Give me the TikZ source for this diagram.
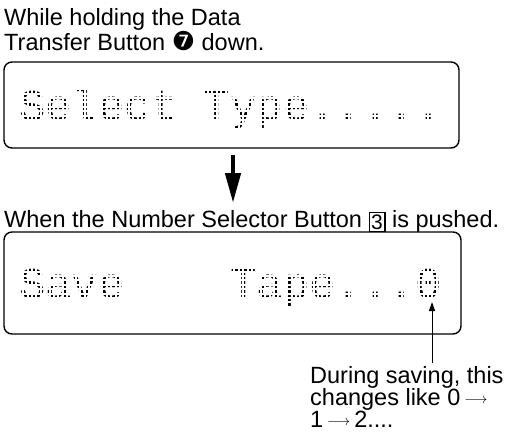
\documentclass[tikz,border=0pt]{standalone}
\usepackage{fontspec}
\setmainfont{Liberation Sans}
\newfontfamily\lcdfont{Liberation Mono}
\newfontfamily\dvfont{DejaVu Sans}
\usetikzlibrary{arrows.meta}
\tikzset{
  lbl/.style={anchor=base west, inner sep=0pt, font=\fontsize{23.5}{26}\selectfont},
  lcdbox/.style={draw, line width=1.4pt, rounded corners=8pt, inner sep=0pt},
  lcdtext/.style={anchor=base west, inner sep=0pt, text=black, font=\lcdfont\fontsize{44}{44}\selectfont},
  dotgrid/.style={white, line width=2pt},
  bigarrow/.style={line width=4.5pt, -{Triangle[length=30pt,width=15pt]}},
  thinarrow/.style={line width=1pt, -{Triangle[length=9pt,width=6pt]}}
}
\newcommand{\smarrow}{\raisebox{2pt}{\fontsize{15}{15}\selectfont$\longrightarrow$}}
\newcommand{\keybox}[1]{{\setlength\fboxsep{1.5pt}\setlength\fboxrule{1.1pt}\raisebox{-2.5pt}{\fbox{\fontsize{21}{21}\selectfont #1}}}}
\begin{document}
\begin{tikzpicture}[x=1pt,y=-1pt]
\useasboundingbox (0,0) rectangle (505,441);
% top caption
\node[lbl] (t1) at (4,26) {While holding the Data};
\node[lbl] (t2) at (4,51) {Transfer Button {\dvfont\fontsize{26}{26}\selectfont ❼} down.};
% first display
\node[lcdtext] (d1) at (18.8,120) {Select\phantom{x}Type.....};
\begin{scope}
  \clip (10,70) rectangle (455,140);
  \foreach \i in {0,...,100} \draw[dotgrid] ({18.8+4.4*\i},70) -- ++(0,70);
  \foreach \j in {-3,...,10} \draw[dotgrid] (10,{120-4.4*\j}) -- ++(445,0);
\end{scope}
\node[lcdbox, minimum width=455pt, minimum height=86pt] (box1) at (231.5,105) {};
% arrow between displays
\coordinate (a1) at (233,155);
\coordinate (a2) at (233,203);
\draw[bigarrow] (a1) -- (a2);
% second caption
\node[lbl] (t3) at (4,227) {When the Number Selector Button \keybox{3} is pushed.};
% second display
\node[lcdtext] (d2) at (18.8,298) {Save\phantom{xxxx}Tape...0};
\begin{scope}
  \clip (10,240) rectangle (455,326);
  \foreach \i in {0,...,100} \draw[dotgrid] ({18.8+4.4*\i},240) -- ++(0,86);
  \foreach \j in {-3,...,12} \draw[dotgrid] (10,{298-4.4*\j}) -- ++(445,0);
\end{scope}
\node[lcdbox, minimum width=457pt, minimum height=102pt] (box2) at (232.5,283) {};
% note
\node[lbl] (n1) at (310,383) {During saving, this};
\node[lbl] (n2) at (310,405) {changes like 0\,\smarrow};
\node[lbl] (n3) at (310,427) {1\,\smarrow\,2....};
\coordinate (p1) at (432,363);
\coordinate (p2) at (432,302);
\draw[thinarrow] (p1) -- (p2);
\end{tikzpicture}
\end{document}
